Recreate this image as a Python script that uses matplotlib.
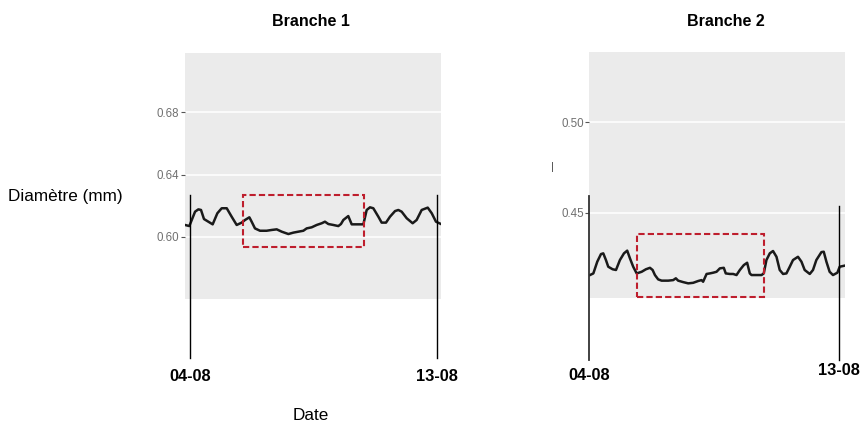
import matplotlib.pyplot as plt
from matplotlib.patches import Rectangle

plt.rcParams['font.family'] = ['Liberation Sans', 'DejaVu Sans']

# hours since 04-08 00:00 and stem diameter (mm)
b1_hours = [-4.4, -0.6, 4.4, 7.3, 9.6, 12.2, 16.0, 19.8, 23.9, 27.7, 32.1, 36.4,
            40.8, 45.2, 48.1, 51.9, 53.9, 56.8, 61.2, 67.0, 71.4, 75.8, 80.2, 86.0,
            90.4, 94.7, 99.1, 102.0, 106.4, 110.8, 115.2, 118.0, 121.0, 125.3, 129.7,
            132.0, 134.1, 138.4, 141.4, 151.6, 154.5, 157.4, 160.3, 164.7, 167.6,
            171.4, 174.9, 179.3, 182.2, 185.1, 189.5, 194.7, 198.2, 202.6, 207.9,
            211.4, 215.1, 219.5]
b1_diam = [0.6077, 0.6070, 0.6162, 0.6177, 0.6173, 0.6115, 0.6098, 0.6081, 0.6152,
           0.6184, 0.6184, 0.6130, 0.6077, 0.6092, 0.6109, 0.6126, 0.6098, 0.6055,
           0.6040, 0.6040, 0.6045, 0.6049, 0.6034, 0.6019, 0.6028, 0.6034, 0.6040,
           0.6055, 0.6062, 0.6077, 0.6088, 0.6098, 0.6083, 0.6077, 0.6070, 0.6083,
           0.6109, 0.6134, 0.6081, 0.6081, 0.6173, 0.6190, 0.6184, 0.6130, 0.6092,
           0.6092, 0.6130, 0.6166, 0.6173, 0.6162, 0.6120, 0.6088, 0.6109, 0.6173,
           0.6188, 0.6152, 0.6098, 0.6083]

b2_hours = [0.6, 3.5, 6.9, 10.1, 12.1, 14.4, 16.4, 20.2, 23.1, 26.5, 30.0, 32.8,
            35.2, 38.0, 41.0, 45.3, 49.0, 52.5, 54.8, 56.8, 59.6, 62.6, 68.3, 72.6,
            74.9, 76.9, 81.2, 85.6, 89.9, 94.2, 97.1, 98.5, 101.5, 104.3, 107.2,
            110.1, 113.0, 116.4, 118.1, 121.6, 124.5, 127.4, 130.3, 133.7, 136.6,
            138.9, 140.4, 149.0, 151.0, 153.3, 156.2, 159.0, 162.0, 164.8, 167.7,
            170.6, 173.5, 176.3, 180.6, 183.6, 186.4, 190.8, 193.6, 196.5, 200.9,
            202.9, 205.2, 208.0, 210.9, 214.7, 216.7, 221.0]
b2_diam = [0.4155, 0.4164, 0.4229, 0.4271, 0.4275, 0.4238, 0.4201, 0.4187, 0.4183,
           0.4238, 0.4275, 0.4290, 0.4247, 0.4201, 0.4164, 0.4173, 0.4187, 0.4195,
           0.4183, 0.4155, 0.4131, 0.4124, 0.4124, 0.4127, 0.4137, 0.4124, 0.4116,
           0.4109, 0.4112, 0.4122, 0.4127, 0.4118, 0.4161, 0.4164, 0.4168, 0.4173,
           0.4192, 0.4195, 0.4164, 0.4161, 0.4161, 0.4155, 0.4183, 0.4210, 0.4223,
           0.4164, 0.4155, 0.4155, 0.4164, 0.4238, 0.4275, 0.4288, 0.4256, 0.4183,
           0.4161, 0.4164, 0.4201, 0.4238, 0.4256, 0.4229, 0.4183, 0.4161, 0.4183,
           0.4238, 0.4282, 0.4284, 0.4229, 0.4173, 0.4155, 0.4168, 0.4201, 0.4207]

date_ticks = [0, 216]
date_labels = ['04-08', '13-08']

b1_yticks = [0.60, 0.64, 0.68]
b2_yticks = [0.45, 0.50]

# highlighted window: (x0, x1, y0, y1)
b1_zoom = (46.3, 152.2, 0.5936, 0.6269)
b2_zoom = (41.0, 151.0, 0.4033, 0.4380)

W, H = 860, 423
fig = plt.figure(figsize=(W / 100, H / 100), dpi=100)


def px_axes(left, top, right, bottom):
    return fig.add_axes([left / W, 1 - bottom / H, (right - left) / W, (bottom - top) / H])


def style(ax, yticks, title, tx):
    ax.set_facecolor('#EBEBEB')
    for s in ax.spines.values():
        s.set_visible(False)
    ax.set_xticks([])
    ax.set_yticks(yticks)
    ax.set_yticklabels(['%.2f' % v for v in yticks])
    ax.tick_params(axis='y', length=3, width=0.8, color='#555555',
                   labelcolor='#707070', labelsize=8.3, pad=1)
    ax.grid(axis='y', color='white', lw=1.1)
    ax.set_axisbelow(True)
    fig.text(tx / W, 1 - 22 / H, title, ha='center', va='center',
             fontsize=11.5, fontweight='bold')


def zoom_box(ax, box):
    x0, x1, y0, y1 = box
    ax.add_patch(Rectangle((x0, y0), x1 - x0, y1 - y0, fill=False,
                           ec='#BE1E2D', lw=1.5, ls=(0, (3, 1.5)),
                           clip_on=False, zorder=4))


# Branche 1
ax1 = px_axes(185, 53, 441, 299)
ax1.set_xlim(-4.4, 219.5)
ax1.set_ylim(0.5603, 0.7178)
style(ax1, b1_yticks, 'Branche 1', 311)
ax1.plot(b1_hours, b1_diam, color='#1a1a1a', lw=1.8, zorder=3)
zoom_box(ax1, b1_zoom)
for x, lab in zip(date_ticks, date_labels):
    ax1.plot([x, x], [0.6269, 0.5226], color='black', lw=1.0, clip_on=False, zorder=3)
    ax1.text(x, 0.5104, lab, ha='center', va='center', fontsize=11.8,
             fontweight='bold', clip_on=False)

# Branche 2
ax2 = px_axes(589.3, 52, 845, 298)
ax2.set_xlim(0, 221.3)
ax2.set_ylim(0.4028, 0.5389)
style(ax2, b2_yticks, 'Branche 2', 726)
ax2.plot(b2_hours, b2_diam, color='#1a1a1a', lw=1.8, zorder=3)
zoom_box(ax2, b2_zoom)
ax2.plot([0, 0], [0.4592, 0.3684], color='#333333', lw=1.3, clip_on=False, zorder=3)
ax2.plot([216, 216], [0.4537, 0.3684], color='black', lw=1.0, clip_on=False, zorder=3)
ax2.text(0, 0.3601, date_labels[0], ha='center', va='center', fontsize=11.8,
         fontweight='bold', clip_on=False)
ax2.text(216, 0.3629, date_labels[1], ha='center', va='center', fontsize=11.8,
         fontweight='bold', clip_on=False)

fig.text(8 / W, 1 - 196 / H, 'Diamètre (mm)', ha='left', va='center', fontsize=12.3)
fig.text(311 / W, 1 - 415 / H, 'Date', ha='center', va='center', fontsize=12.3)
fig.text(552 / W, 1 - 167 / H, '|', ha='center', va='center', fontsize=8, color='#444444')

fig.savefig('out.png', dpi=100)
